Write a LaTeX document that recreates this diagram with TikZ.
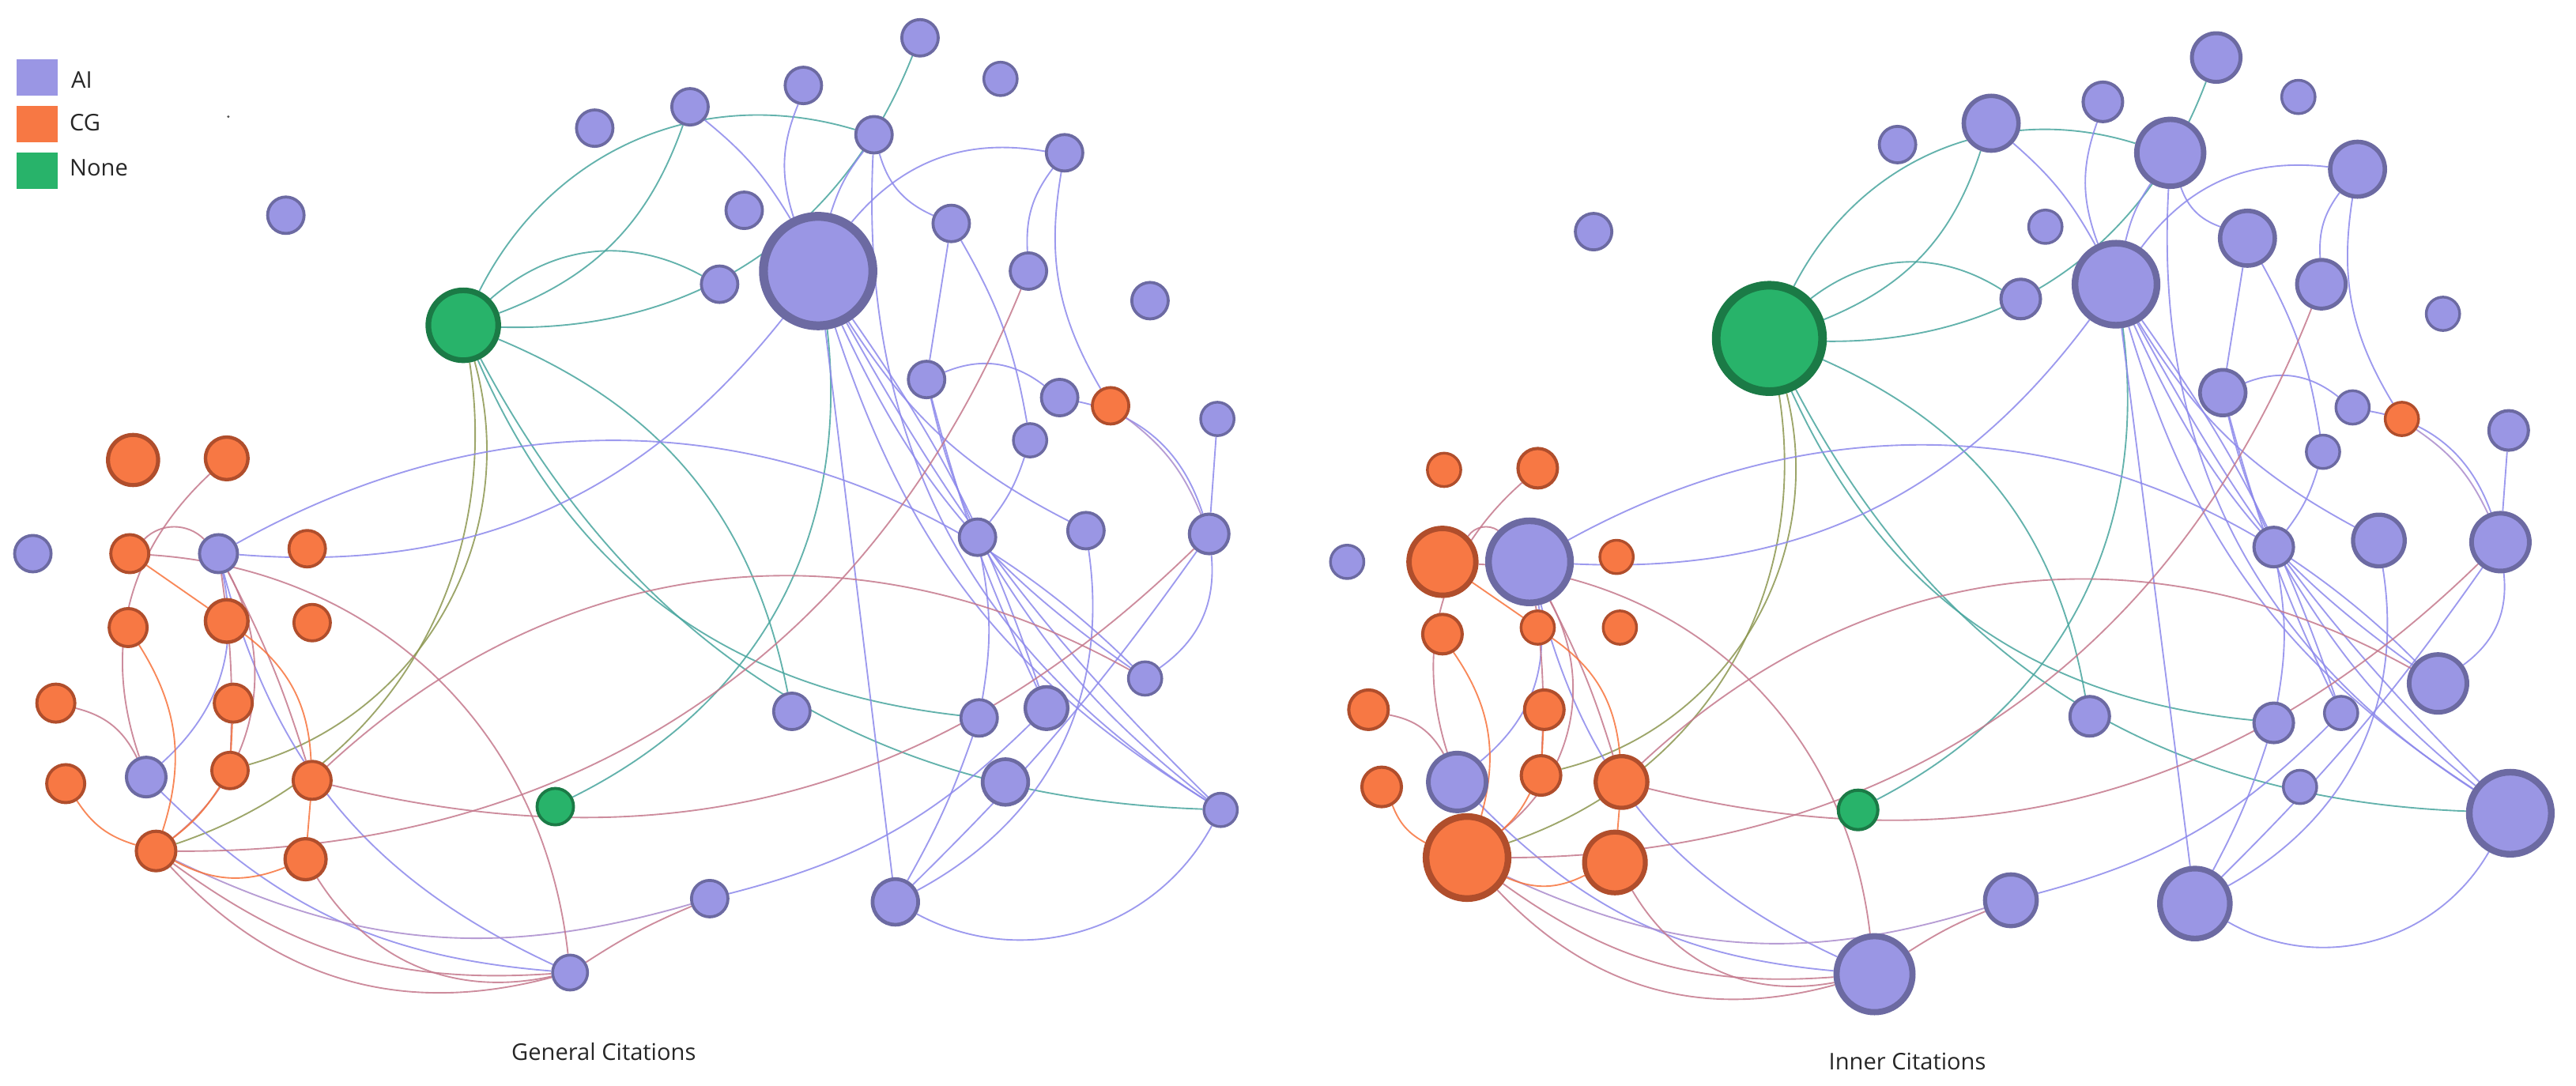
\documentclass[tikz,border=0pt]{standalone}
\usepackage{fontspec}
\setmainfont{Open Sans}
\pgfdeclarelayer{bg}
\pgfsetlayers{bg,main}
\definecolor{aifill}{RGB}{154,150,228}
\definecolor{aidraw}{RGB}{108,106,162}
\definecolor{cgfill}{RGB}{247,120,68}
\definecolor{cgdraw}{RGB}{176,78,44}
\definecolor{nofill}{RGB}{40,179,106}
\definecolor{nodraw}{RGB}{27,122,70}
\definecolor{eai}{RGB}{140,136,235}
\definecolor{eteal}{RGB}{72,165,158}
\definecolor{epink}{RGB}{196,120,140}
\definecolor{eorange}{RGB}{247,115,60}
\definecolor{eolive}{RGB}{140,150,80}
\definecolor{emix}{RGB}{170,140,205}
\tikzset{
  ai/.style={circle, fill=aifill, draw=aidraw, inner sep=0pt},
  cg/.style={circle, fill=cgfill, draw=cgdraw, inner sep=0pt},
  nn/.style={circle, fill=nofill, draw=nodraw, inner sep=0pt},
  lnk/.style={line width=0.45pt, opacity=0.85},
  ea/.style={lnk, draw=eai},
  et/.style={lnk, draw=eteal},
  ep/.style={lnk, draw=epink},
  eo/.style={lnk, draw=eorange},
  ev/.style={lnk, draw=eolive},
  em/.style={lnk, draw=emix},
  swatch/.style={inner sep=0pt, minimum width=12.5pt, minimum height=11pt},
  lbl/.style={font=\fontsize{7pt}{8pt}\selectfont, inner sep=0pt, text=black!85}
}
\newcommand\gn[5]{\pgfmathsetmacro\gnlw{0.075*#5}\pgfmathsetmacro\gnms{0.925*#5}%
  \node[#2, line width=\gnlw pt, minimum size=\gnms pt] (#1) at (#3,#4) {};}
\newcommand\drawedges[1]{%
  % teal (None - AI)
  \draw[et] (#149) to[bend left=40] (#17);
  \draw[et] (#149) to[bend left=35] (#110);
  \draw[et] (#149) to[bend right=25] (#13);
  \draw[et] (#149) to[bend right=35] (#15);
  \draw[et] (#149) to[bend left=28] (#125);
  \draw[et] (#149) to[bend right=30] (#126);
  \draw[et] (#149) to[bend right=30] (#130);
  \draw[et] (#111) to[bend left=35] (#150);
  % olive (None - CG)
  \draw[ev] (#149) to[bend left=45] (#144);
  \draw[ev] (#149) to[bend left=40] (#146);
  % purple (AI - AI)
  \draw[ea] (#13) to[bend left=10] (#111);
  \draw[ea] (#14) to[bend right=20] (#111);
  \draw[ea] (#17) to[bend right=10] (#111);
  \draw[ea] (#111) to[bend left=30] (#18);
  \draw[ea] (#17) to[bend right=25] (#112);
  \draw[ea] (#112) to (#115);
  \draw[ea] (#112) to[bend left=10] (#117);
  \draw[ea] (#18) to[bend right=20] (#113);
  \draw[ea] (#18) to[bend right=20] (#148);
  \draw[ea] (#115) to[bend left=30] (#116);
  \draw[ea] (#116) to[bend left=30] (#121);
  \draw[ea] (#118) to (#121);
  \draw[ea] (#117) to[bend left=10] (#119);
  \draw[ea] (#115) to[bend right=5] (#119);
  \draw[ea] (#119) to[bend left=10] (#126);
  \draw[ea] (#111) to[bend right=15] (#120);
  \draw[ea] (#121) to[bend left=30] (#124);
  \draw[ea] (#120) to[bend left=35] (#132);
  \draw[ea] (#121) to[bend left=5] (#132);
  \draw[ea] (#111) to[bend left=8] (#127);
  \draw[ea] (#111) to[bend right=20] (#130);
  \draw[ea] (#111) to[bend right=8] (#130);
  \draw[ea] (#17) to[bend right=30] (#130);
  \draw[ea] (#119) to[bend right=10] (#130);
  \draw[ea] (#111) to[bend right=15] (#124);
  \draw[ea] (#111) to (#132);
  \draw[ea] (#115) to[bend right=5] (#127);
  \draw[ea] (#132) to[bend right=45] (#130);
  \draw[ea] (#132) to[bend right=5] (#126);
  \draw[ea] (#131) to[bend right=15] (#127);
  \draw[ea] (#123) to[bend right=28] (#111);
  \draw[ea] (#123) to[bend left=37] (#124);
  \draw[ea] (#123) to[bend left=30] (#128);
  \draw[ea] (#123) to[bend right=25] (#133);
  \draw[ea] (#128) to[bend right=20] (#133);
  % pink (CG - AI)
  \draw[em] (#148) to[bend left=15] (#121);
  \draw[em] (#146) to[bend right=21] (#131);
  \draw[ep] (#146) to[bend right=31] (#133);
  \draw[ep] (#146) to[bend right=20] (#133);
  \draw[ep] (#147) to[bend right=35] (#133);
  \draw[ep] (#136) to[bend left=40] (#133);
  \draw[ep] (#136) to[bend left=45] (#123);
  \draw[ep] (#135) to[bend right=33] (#128);
  \draw[ep] (#123) to[bend left=5] (#144);
  \draw[ep] (#123) to[bend left=5] (#145);
  \draw[ep] (#123) to[bend left=40] (#146);
  \draw[ep] (#141) to[bend left=25] (#128);
  \draw[ep] (#146) to[bend right=34] (#113);
  \draw[ep] (#145) to[bend left=36] (#124);
  \draw[ep] (#145) to[bend right=29] (#121);
  \draw[ep] (#133) to[bend left=5] (#131);
  % orange (CG - CG)
  \draw[eo] (#136) to (#139);
  \draw[eo] (#138) to[bend left=25] (#146);
  \draw[eo] (#139) to[bend left=25] (#145);
  \draw[eo] (#142) to (#144);
  \draw[eo] (#144) to[bend left=10] (#146);
  \draw[eo] (#143) to[bend right=20] (#146);
  \draw[eo] (#145) to (#147);
  \draw[eo] (#146) to[bend right=25] (#147);
}
\begin{document}
\begin{tikzpicture}[x=0.5pt, y=-0.5pt]
\useasboundingbox (0,0) rectangle (1568,661);
% ---------------- left graph: General Citations
\gn{L1}{ai}{174}{131}{12}
\gn{L2}{ai}{362}{78}{12}
\gn{L3}{ai}{420}{65}{12}
\gn{L4}{ai}{489}{52}{12}
\gn{L5}{ai}{560}{23}{12}
\gn{L6}{ai}{609}{48}{11}
\gn{L7}{ai}{532}{82}{12}
\gn{L8}{ai}{648}{93}{12}
\gn{L9}{ai}{453}{128}{12}
\gn{L10}{ai}{438}{173}{12}
\gn{L11}{ai}{498}{165}{36}
\gn{L12}{ai}{579}{136}{12}
\gn{L13}{ai}{626}{165}{12}
\gn{L14}{ai}{700}{183}{12}
\gn{L15}{ai}{564}{231}{12}
\gn{L16}{ai}{645}{242}{12}
\gn{L17}{ai}{627}{268}{11}
\gn{L18}{ai}{741}{255}{11}
\gn{L19}{ai}{595}{327}{12}
\gn{L20}{ai}{661}{323}{12}
\gn{L21}{ai}{736}{325}{13}
\gn{L22}{ai}{20}{337}{12}
\gn{L23}{ai}{133}{337}{12.5}
\gn{L24}{ai}{697}{413}{11}
\gn{L25}{ai}{482}{433}{12}
\gn{L26}{ai}{596}{437}{12}
\gn{L27}{ai}{637}{431}{14}
\gn{L28}{ai}{89}{473}{13}
\gn{L29}{ai}{612}{476}{15}
\gn{L30}{ai}{743}{493}{11}
\gn{L31}{ai}{432}{547}{12}
\gn{L32}{ai}{545}{549}{15}
\gn{L33}{ai}{347}{592}{11.5}
\gn{L34}{cg}{81}{280}{16.5}
\gn{L35}{cg}{138}{279}{14}
\gn{L36}{cg}{79}{337}{12.5}
\gn{L37}{cg}{187}{334}{12}
\gn{L38}{cg}{78}{382}{12.5}
\gn{L39}{cg}{138}{378}{14}
\gn{L40}{cg}{190}{379}{12}
\gn{L41}{cg}{34}{428}{12.5}
\gn{L42}{cg}{142}{428}{12.5}
\gn{L43}{cg}{40}{477}{12.5}
\gn{L44}{cg}{140}{469}{12}
\gn{L45}{cg}{190}{475}{12.5}
\gn{L46}{cg}{95}{518}{13}
\gn{L47}{cg}{186}{523}{13.5}
\gn{L48}{cg}{676}{247}{12}
\gn{L49}{nn}{282}{198}{23}
\gn{L50}{nn}{338}{491}{12}
% ---------------- right graph: Inner Citations
\gn{R1}{ai}{970}{141}{12}
\gn{R2}{ai}{1155}{88}{12}
\gn{R3}{ai}{1212}{75}{18}
\gn{R4}{ai}{1280}{62}{13}
\gn{R5}{ai}{1349}{35}{16}
\gn{R6}{ai}{1399}{59}{11}
\gn{R7}{ai}{1321}{93}{22}
\gn{R8}{ai}{1435}{103}{18}
\gn{R9}{ai}{1245}{138}{11}
\gn{R10}{ai}{1230}{182}{13}
\gn{R11}{ai}{1288}{173}{27}
\gn{R12}{ai}{1368}{145}{18}
\gn{R13}{ai}{1413}{173}{16}
\gn{R14}{ai}{1487}{191}{11}
\gn{R15}{ai}{1353}{239}{15}
\gn{R16}{ai}{1432}{248}{11}
\gn{R17}{ai}{1414}{275}{11}
\gn{R18}{ai}{1527}{262}{13}
\gn{R19}{ai}{1384}{333}{13}
\gn{R20}{ai}{1448}{329}{17}
\gn{R21}{ai}{1522}{330}{19}
\gn{R22}{ai}{820}{342}{11}
\gn{R23}{ai}{931}{342}{27}
\gn{R24}{ai}{1484}{416}{19}
\gn{R25}{ai}{1272}{436}{13}
\gn{R26}{ai}{1384}{440}{13}
\gn{R27}{ai}{1425}{434}{11}
\gn{R28}{ai}{887}{476}{19}
\gn{R29}{ai}{1400}{479}{11}
\gn{R30}{ai}{1528}{495}{27}
\gn{R31}{ai}{1224}{548}{17}
\gn{R32}{ai}{1336}{550}{23}
\gn{R33}{ai}{1141}{593}{25}
\gn{R34}{cg}{879}{286}{11}
\gn{R35}{cg}{936}{285}{13}
\gn{R36}{cg}{878}{342}{22}
\gn{R37}{cg}{984}{339}{11}
\gn{R38}{cg}{878}{386}{13}
\gn{R39}{cg}{936}{382}{11}
\gn{R40}{cg}{986}{382}{11}
\gn{R41}{cg}{833}{432}{13}
\gn{R42}{cg}{940}{432}{13}
\gn{R43}{cg}{841}{479}{13}
\gn{R44}{cg}{938}{472}{13}
\gn{R45}{cg}{987}{476}{17}
\gn{R46}{cg}{893}{522}{27}
\gn{R47}{cg}{983}{525}{20}
\gn{R48}{cg}{1462}{255}{11}
\gn{R49}{nn}{1077}{206}{35}
\gn{R50}{nn}{1131}{493}{13}
% ---------------- connectors
\begin{pgfonlayer}{bg}
\drawedges{L}
\drawedges{R}
\end{pgfonlayer}
% ---------------- legend
\node[swatch, fill=aifill] (sai) at (22.5,47) {};
\node[swatch, fill=cgfill] (scg) at (22.5,75.5) {};
\node[swatch, fill=nofill] (snn) at (22.5,104) {};
\node[lbl, anchor=west] (tai) at (43,48.5) {AI};
\node[lbl, anchor=west] (tcg) at (42,74.5) {CG};
\node[lbl, anchor=west] (tnn) at (42,102) {None};
\fill[black!70] (139,71) circle (0.4pt);
% ---------------- titles
\node[lbl] (tgen) at (367.5,640) {General Citations};
\node[lbl] (tinn) at (1161,646) {Inner Citations};
\end{tikzpicture}
\end{document}
